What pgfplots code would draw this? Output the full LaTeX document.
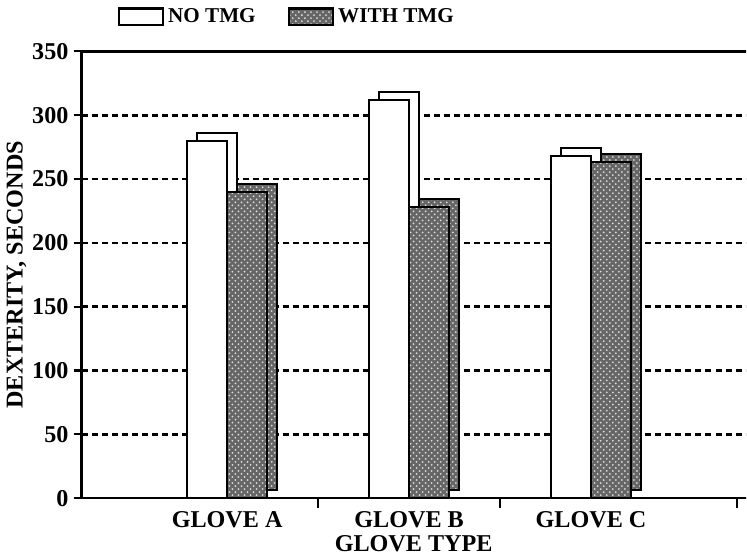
\documentclass[border=0pt]{standalone}
\usepackage{pgfplots}
\pgfplotsset{compat=1.18}
\usepackage{fontspec}
\setmainfont{Liberation Serif}
\usetikzlibrary{patterns}

% dexterity times, seconds
\pgfplotstableread{
x notmg withtmg
0 280 240
1 312 228
2 268 263
}\dexdata

\tikzset{
  notmg/.style={draw=black, line width=1pt, fill=white},
  withtmg/.style={draw=black, line width=1pt, fill=black!60,
    postaction={pattern=crosshatch dots, pattern color=white!85!black}},
}

\begin{document}
\begin{tikzpicture}
\begin{axis}[
  scale only axis,
  width=330pt, height=222pt,
  xmin=-0.8, xmax=2.85,
  ymin=0, ymax=350,
  axis x line=box, axis y line=left,
  axis line style={line width=1.2pt, -},
  ytick={0,50,...,350},
  xtick={0,1,2},
  xticklabels={GLOVE A,GLOVE B,GLOVE C},
  minor xtick={0.5,1.5,2.8},
  major x tick style={draw=none},
  minor x tick style={line width=1pt, black},
  y tick style={line width=1pt, black},
  tick align=outside,
  major tick length=4pt, minor tick length=5pt,
  xtick pos=bottom, ytick pos=left,
  ymajorgrids=true,
  major grid style={line width=1.3pt, dash pattern=on 3pt off 2pt, black},
  ticklabel style={font=\fontsize{12}{14}\selectfont\bfseries},
  /pgf/number format/assume math mode=true,
  yticklabel style={xshift=1pt},
  xticklabel style={yshift=1pt},
  xlabel={GLOVE TYPE},
  ylabel={DEXTERITY, SECONDS},
  label style={font=\fontsize{12}{14}\selectfont\bfseries},
  xlabel style={yshift=3pt},
  ylabel style={yshift=-4pt},
  ybar, bar width=0.22,
  legend columns=2,
  legend style={at={(0.045,1.04)}, anchor=south west, draw=none, fill=none,
    font=\fontsize{10.5}{12}\selectfont\bfseries,
    /tikz/every even column/.append style={column sep=14pt}},
  legend image code/.code={\draw[#1] (0pt,-4pt) rectangle (22pt,4pt);},
  clip=false,
]
% depth faces behind the bars
\addplot[notmg, bar shift=-0.11, xshift=5pt, yshift=4pt, forget plot] table[x=x, y=notmg] {\dexdata};
\addplot[withtmg, bar shift=0.11, xshift=5pt, yshift=4pt, forget plot] table[x=x, y=withtmg] {\dexdata};
% front faces
\addplot[notmg, bar shift=-0.11] table[x=x, y=notmg] {\dexdata};
\addplot[withtmg, bar shift=0.11] table[x=x, y=withtmg] {\dexdata};
\legend{NO TMG, WITH TMG}
\end{axis}
\end{tikzpicture}
\end{document}
